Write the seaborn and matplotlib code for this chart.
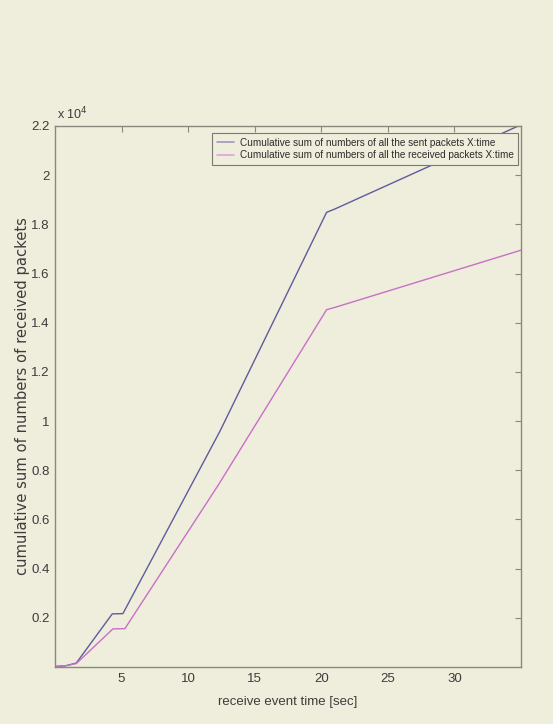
import matplotlib
matplotlib.use("Agg")
import matplotlib.pyplot as plt
import seaborn as sns
import pandas as pd

# ---- data ----
sent_t = [0.0, 0.8, 1.6, 4.3, 5.1, 12.4, 20.4, 21.0, 35.0]
sent_v = [20, 50, 160, 2160, 2170, 9600, 18490, 18620, 22050]
recv_t = [0.0, 0.8, 1.6, 4.35, 5.25, 12.3, 20.4, 21.0, 35.0]
recv_v = [20, 50, 140, 1550, 1560, 7430, 14530, 14620, 16950]
series_names = ["Cumulative sum of numbers of all the sent packets X:time",
                "Cumulative sum of numbers of all the received packets X:time"]
x_ticks = [5, 10, 15, 20, 25, 30]
y_ticks = [2000, 4000, 6000, 8000, 10000, 12000, 14000, 16000, 18000, 20000, 22000]
y_tick_labels = ["0.2", "0.4", "0.6", "0.8", "1", "1.2", "1.4", "1.6", "1.8", "2", "2.2"]

df = pd.DataFrame({
    "t": sent_t + recv_t,
    "v": sent_v + recv_v,
    "series": [series_names[0]] * len(sent_t) + [series_names[1]] * len(recv_t),
})

BG = "#efeddb"
sns.set_style("white")
plt.rcParams["font.family"] = ["Liberation Sans", "DejaVu Sans"]

fig = plt.figure(figsize=(5.53, 7.24), dpi=100, facecolor=BG)
ax_w = (521 - 55) / 553
ax_h = (667 - 126) / 724
ax = fig.add_axes([55 / 553, 1 - 667 / 724, ax_w, ax_h])
ax.set_facecolor(BG)

palette = {series_names[0]: "#5e5c9c", series_names[1]: "#c870c8"}
sns.lineplot(data=df, x="t", y="v", hue="series", palette=palette,
             estimator=None, sort=False, linewidth=1.0, ax=ax)

ax.set_xlim(0, 35)
ax.set_ylim(0, 22000)
ax.set_xticks(x_ticks)
ax.set_xticklabels([str(t) for t in x_ticks])
ax.set_yticks(y_ticks)
ax.set_yticklabels(y_tick_labels)

spine_c = "#8a887c"
for s in ax.spines.values():
    s.set_color(spine_c)
    s.set_linewidth(1.0)
ax.tick_params(axis="both", which="both", direction="in", length=4, width=0.8,
               color=spine_c, labelcolor="#3c3c3c", labelsize=9.5,
               top=True, right=True, pad=4)

ax.set_xlabel("receive event time [sec]", fontsize=9.5, color="#3c3c3c", labelpad=8)
ax.set_ylabel("cumulative sum of numbers of received packets", fontsize=10.6,
              color="#3c3c3c", family=["DejaVu Sans"], labelpad=1)

ax.text(0.004, 1.006, r"x 10$^4$", transform=ax.transAxes, fontsize=9,
        color="#3c3c3c", ha="left", va="bottom")

leg = ax.legend(loc="upper right", fontsize=7.2, frameon=True, fancybox=False,
                bbox_to_anchor=(1 - 3 / 466, 1 - 7 / 541), borderaxespad=0,
                handlelength=1.7, handletextpad=0.6,
                borderpad=0.45, labelspacing=0.3)
leg.get_frame().set_facecolor(BG)
leg.get_frame().set_edgecolor("#7c7a70")
leg.get_frame().set_linewidth(0.8)
leg.get_frame().set_alpha(1.0)
for h, c in zip(leg.get_lines(), ["#9a98c4", "#e0a0dc"]):
    h.set_color(c)
    h.set_linewidth(1.2)
for t in leg.get_texts():
    t.set_color("#2c2c2c")

fig.savefig("out.png", dpi=100, facecolor=BG)
